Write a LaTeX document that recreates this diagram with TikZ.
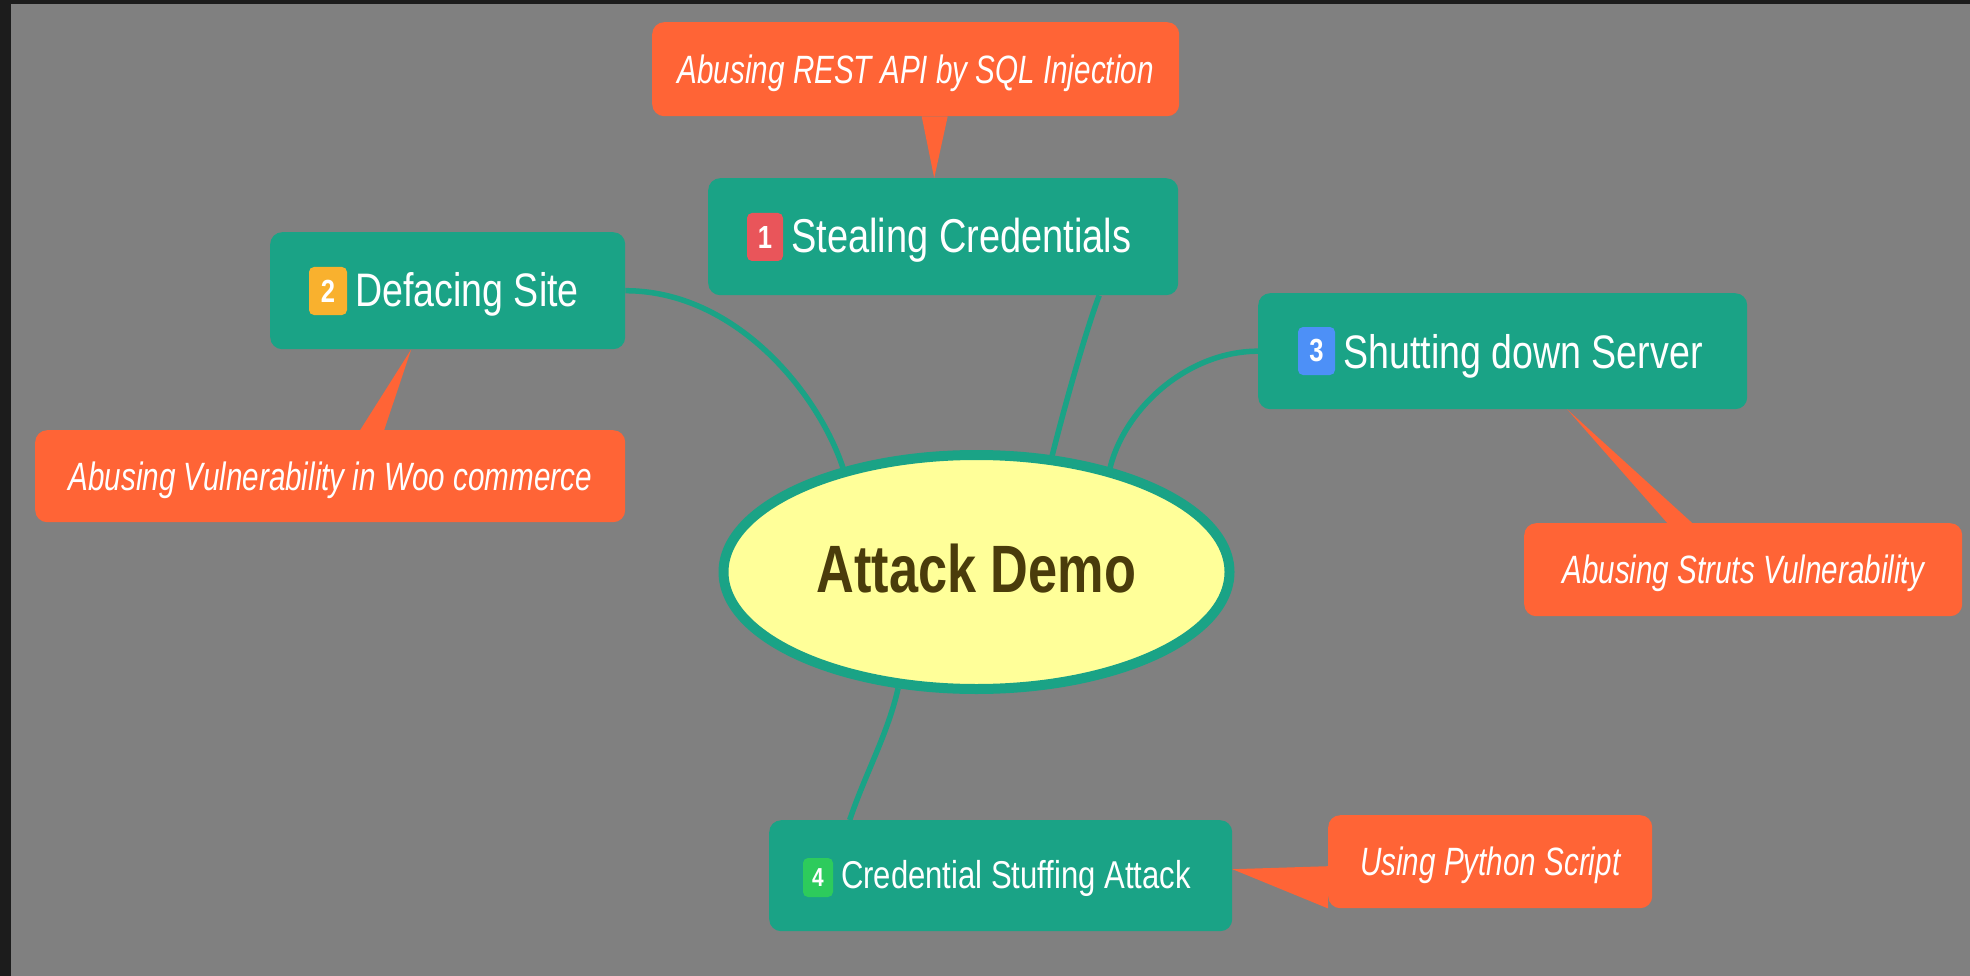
\documentclass[tikz,border=0pt]{standalone}
\usepackage{fontspec}
\usetikzlibrary{shapes.geometric}

% Narrow sans faces for the mind-map texts
\newfontfamily\boxfont[FakeStretch=0.8]{Liberation Sans}
\newfontfamily\notefont[FakeStretch=0.75]{Liberation Sans}
\newfontfamily\titlefont[FakeStretch=0.78]{Liberation Sans}

\definecolor{frame}{HTML}{1C1C1C}
\definecolor{canvas}{HTML}{808080}
\definecolor{topicgreen}{HTML}{1AA386}
\definecolor{notered}{HTML}{FF6436}
\definecolor{rootfill}{HTML}{FFFF99}
\definecolor{roottext}{HTML}{4A3C0B}
\definecolor{badgeone}{HTML}{E9555A}
\definecolor{badgetwo}{HTML}{F9B12E}
\definecolor{badgethree}{HTML}{4D90F7}
\definecolor{badgefour}{HTML}{2DCB5C}

\begin{document}
\begin{tikzpicture}[x=1pt,y=-1pt,
  topic/.style={fill=topicgreen, rounded corners=12pt, inner sep=0pt, anchor=north west},
  note/.style={fill=notered, rounded corners=12pt, inner sep=0pt, anchor=north west,
    text=white, font=\notefont\itshape\fontsize{39.5}{41}\selectfont,
    text height=28pt, text depth=0pt},
  tlabel/.style={inner sep=0pt, anchor=base west, text=white},
  badge/.style={rounded corners=5pt, inner sep=0pt, text=white},
  root/.style={ellipse, draw=topicgreen, line width=10pt, fill=rootfill,
    minimum width=506pt, minimum height=234pt, inner sep=0pt, text=roottext,
    font=\titlefont\bfseries\fontsize{67}{70}\selectfont,
    text height=48pt, text depth=8pt},
  link/.style={draw=topicgreen, line width=5.5pt},
  pointer/.style={fill=notered}]

\useasboundingbox (0,0) rectangle (1970,976);
\fill[frame] (0,0) rectangle (1970,976);
\fill[canvas] (11,4) rectangle (1970,976);

% central topic
\node[root] (root) at (976.5,572) {Attack Demo};

% main topics
\node[topic, minimum width=470pt, minimum height=117pt] (steal) at (708,178) {};
\node[topic, minimum width=355pt, minimum height=117pt] (def) at (270,232) {};
\node[topic, minimum width=489pt, minimum height=116pt] (shut) at (1258,293) {};
\node[topic, minimum width=463pt, minimum height=111pt] (cred) at (769,820) {};

% priority badges
\node[badge, fill=badgeone, minimum width=36pt, minimum height=48pt,
  font=\boxfont\bfseries\fontsize{32}{32}\selectfont] (b1) at (765,237) {1};
\node[badge, fill=badgetwo, minimum width=38pt, minimum height=48pt,
  font=\boxfont\bfseries\fontsize{32}{32}\selectfont] (b2) at (328,291) {2};
\node[badge, fill=badgethree, minimum width=37pt, minimum height=48pt,
  font=\boxfont\bfseries\fontsize{32}{32}\selectfont] (b3) at (1316.5,351) {3};
\node[badge, fill=badgefour, minimum width=30pt, minimum height=39pt,
  font=\boxfont\bfseries\fontsize{26}{26}\selectfont] (b4) at (818,877.5) {4};

% topic titles
\node[tlabel, font=\boxfont\fontsize{47.5}{50}\selectfont] (stealtxt) at (791,253) {Stealing Credentials};
\node[tlabel, font=\boxfont\fontsize{47}{50}\selectfont] (deftxt) at (355,307) {Defacing Site};
\node[tlabel, font=\boxfont\fontsize{47}{50}\selectfont] (shuttxt) at (1343,368) {Shutting down Server};
\node[tlabel, font=\boxfont\fontsize{38.8}{40}\selectfont] (credtxt) at (841,888) {Credential Stuffing Attack};

% callout notes
\node[note, minimum width=527pt, minimum height=94pt] (rest) at (652,22) {Abusing REST API by SQL Injection};
\node[note, minimum width=590pt, minimum height=92pt] (vuln) at (35,430) {Abusing Vulnerability in Woo commerce};
\node[note, minimum width=438pt, minimum height=93pt] (struts) at (1524,523) {Abusing Struts Vulnerability};
\node[note, minimum width=324pt, minimum height=93pt] (py) at (1328,815) {Using Python Script};

% callout pointers
\fill[pointer] ([xshift=6pt]rest.south) -- ([xshift=-9pt]steal.north) -- ([xshift=32pt]rest.south) -- cycle;
\fill[pointer] ([xshift=30pt]vuln.north) -- ([xshift=-36.5pt]def.south) -- ([xshift=54pt]vuln.north) -- cycle;
\fill[pointer] ([xshift=-76pt]struts.north) -- ([xshift=64.5pt]shut.south) -- ([xshift=-51pt]struts.north) -- cycle;
\fill[pointer] ([yshift=-4.5pt]py.west) -- ([yshift=6.5pt]cred.east) -- (py.south west) -- ([yshift=12pt]py.south west) -- cycle;

% branches from the central topic
\draw[link] (def.east) .. controls +(110,0) and +(-25,-75) .. (root.142);
\draw[link] ([xshift=156pt]steal.south) .. controls +(-15,40) and +(10,-40) .. (root.57);
\draw[link] (shut.west) .. controls +(-70,0) and +(15,-60) .. (root.38);
\draw[link] (root.236) .. controls +(-10,45) and +(15,-45) .. ([xshift=-151pt]cred.north);

\end{tikzpicture}
\end{document}
